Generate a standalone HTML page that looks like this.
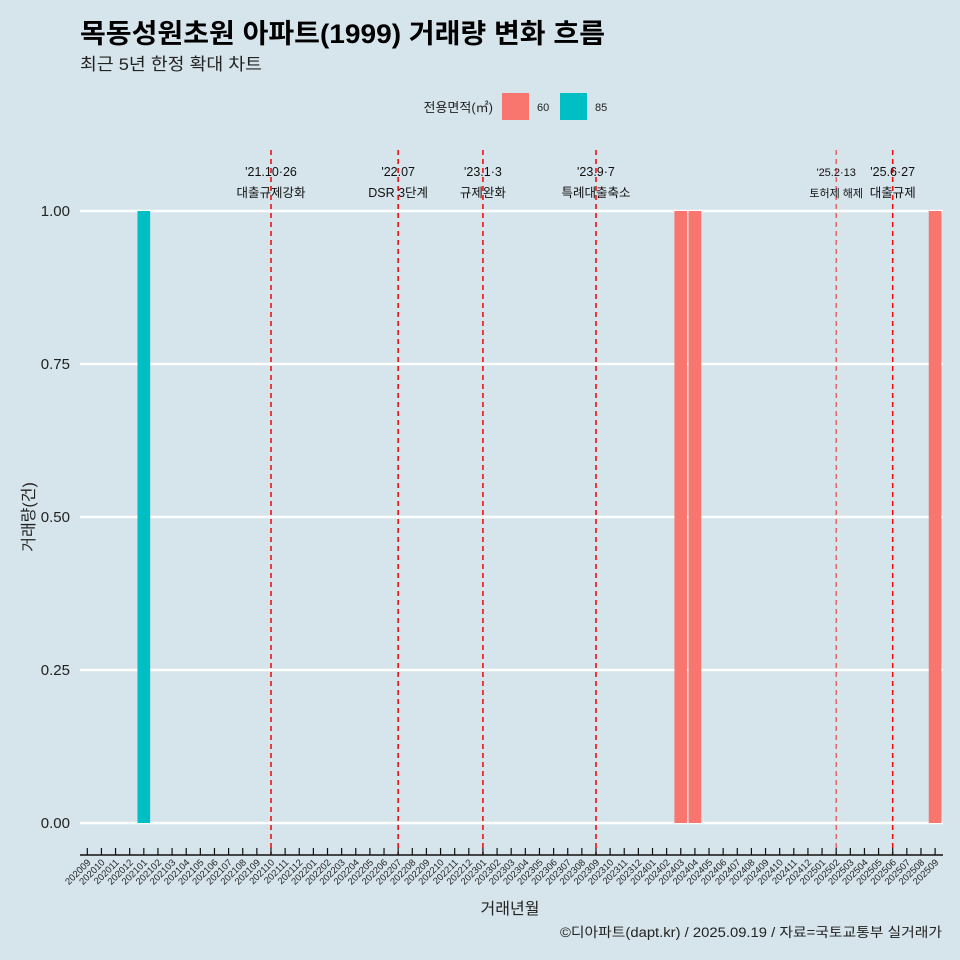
<!DOCTYPE html>
<html><head><meta charset="utf-8"><style>
html,body{margin:0;padding:0;background:#d6e4eb;}
svg{display:block;font-family:"Liberation Sans","Noto Sans CJK KR",sans-serif;}
</style></head><body>
<svg id="chart" width="960" height="960" viewBox="0 0 960 960">
<rect width="960" height="960" fill="#d6e4eb"/>
<text x="80" y="43" font-size="27" font-weight="bold" fill="#000" textLength="525" lengthAdjust="spacingAndGlyphs">목동성원초원 아파트(1999) 거래량 변화 흐름</text>
<text x="80" y="70" font-size="17" fill="#222" textLength="182" lengthAdjust="spacingAndGlyphs">최근 5년 한정 확대 차트</text>
<g>
<text x="493" y="112" font-size="13" text-anchor="end" fill="#222">전용면적(㎡)</text>
<rect x="502" y="93" width="27" height="27" fill="#f8766d"/>
<text x="537" y="111" font-size="11" fill="#222">60</text>
<rect x="560" y="93" width="27" height="27" fill="#00bfc4"/>
<text x="595" y="111" font-size="11" fill="#222">85</text>
</g>
<g id="grid"></g><g id="bars"></g><g id="events"></g><g id="axes"></g>
<text x="510" y="914" font-size="16" text-anchor="middle" fill="#222">거래년월</text>
<text transform="translate(34,517) rotate(-90)" font-size="16" text-anchor="middle" fill="#222">거래량(건)</text>
<text x="942" y="937" font-size="13.5" text-anchor="end" fill="#222" textLength="382" lengthAdjust="spacingAndGlyphs">©디아파트(dapt.kr) / 2025.09.19 / 자료=국토교통부 실거래가</text>
</svg>
<script>
const months = [];
for (let y = 2020; y <= 2025; y++) for (let m = 1; m <= 12; m++) {
  const k = y * 100 + m; if (k >= 202009 && k <= 202509) months.push(String(k));
}
const barMonths = ["202101", "202403", "202404", "202509"];
const barAreas = ["85", "60", "60", "60"];
const barValues = [1, 1, 1, 1];
const yTicks = [0, 0.25, 0.5, 0.75, 1];
const yTickLabels = ["0.00", "0.25", "0.50", "0.75", "1.00"];
const eventMonths = ["202110", "202207", "202301", "202309", "202502", "202506"];
const eventDates = ["'21.10·26", "'22.07", "'23.1·3", "'23.9·7", "'25.2·13", "'25.6·27"];
const eventLabels = ["대출규제강화", "DSR 3단계", "규제완화", "특례대출축소", "토허제 해제", "대출규제"];

const NS = "http://www.w3.org/2000/svg";
const x0 = 87.3, step = 14.13, yZero = 823, yOne = 211;
const xs = m => x0 + months.indexOf(m) * step;
const ys = v => yZero - v * (yZero - yOne);
const colors = { "60": "#f8766d", "85": "#00bfc4" };
function mk(tag, attrs, parent) { const e = document.createElementNS(NS, tag); for (const k in attrs) e.setAttribute(k, attrs[k]); parent.appendChild(e); return e; }
const grid = document.getElementById("grid"), bars = document.getElementById("bars"), ev = document.getElementById("events"), axes = document.getElementById("axes");

yTicks.forEach((t, i) => {
  const l = mk("line", { x1: 80, x2: 943, y1: ys(t), y2: ys(t), stroke: "#fff", "stroke-width": 2.6 }, grid);
  
  
  const tx = mk("text", { x: 70, y: ys(t) + 5, "font-size": 15, "text-anchor": "end", fill: "#222" }, axes);
  tx.textContent = yTickLabels[i];
  
  
});

barMonths.forEach((m, i) => {
  const w = 12.7, top = ys(barValues[i]);
  const r = mk("rect", { x: xs(m) - w / 2, y: top, width: w, height: yZero - top, fill: colors[barAreas[i]] }, bars);
  
  
});

eventMonths.forEach((m, i) => {
  const x = xs(m), light = m === "202502";
  const l = mk("line", { x1: x, x2: x, y1: 150, y2: 855, stroke: light ? "#e8474b" : "#ee1111", "stroke-width": light ? 1.2 : 1.6, "stroke-dasharray": "5,4" }, ev);
  
  
  const fs = light ? 11 : 12.5;
  const t1 = mk("text", { x: x, y: 176, "font-size": fs, "text-anchor": "middle", fill: "#111" }, ev);
  t1.textContent = eventDates[i];
  
  
  const t2 = mk("text", { x: x, y: 197, "font-size": fs, "text-anchor": "middle", fill: "#111" }, ev);
  t2.textContent = eventLabels[i];
  
  
});

const ax = mk("line", { x1: 80, x2: 943, y1: 855, y2: 855, stroke: "#111", "stroke-width": 1.5 }, axes);


months.forEach(m => {
  const x = xs(m);
  const tk = mk("line", { x1: x, x2: x, y1: 848, y2: 855, stroke: "#111", "stroke-width": 1.2 }, axes);
  
  
  const t = mk("text", { x: x + 4, y: 863, "font-size": 9.5, "text-anchor": "end", fill: "#222", transform: `rotate(-45 ${x + 4} 863)` }, axes);
  t.textContent = m;
  
  
});
</script>
</body></html>
